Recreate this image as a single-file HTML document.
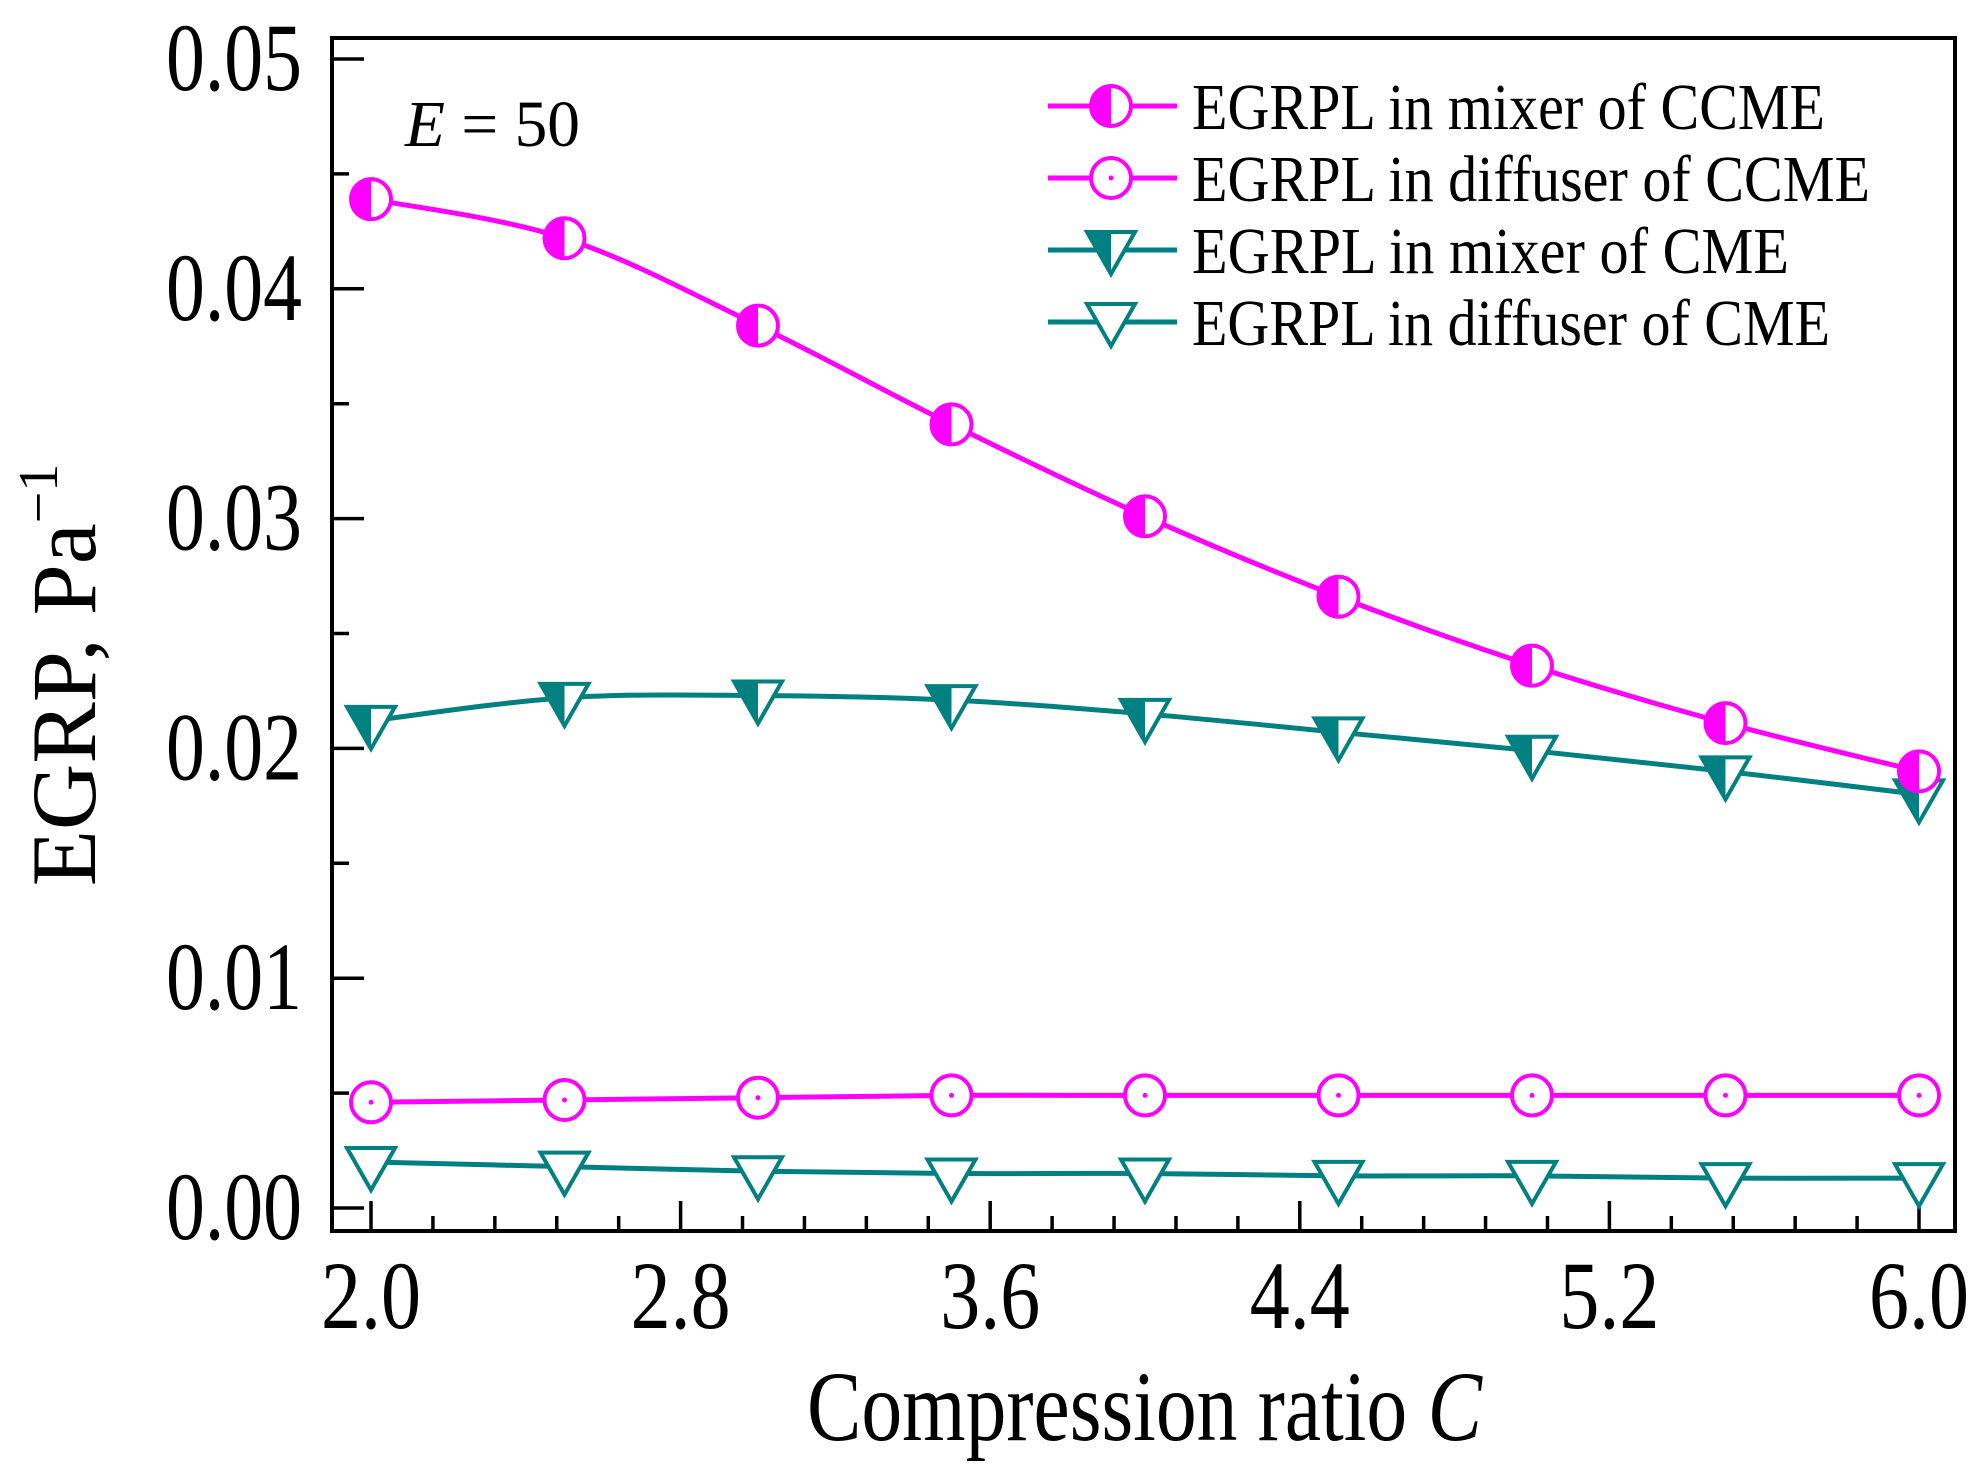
<!DOCTYPE html>
<html><head><meta charset="utf-8"><style>
html,body{margin:0;padding:0;background:#fff;}
svg{display:block;}
text{font-family:"Liberation Serif",serif;fill:#000;}
</style></head><body>
<svg id="s" width="1984" height="1470" xmlns="http://www.w3.org/2000/svg"></svg>
<script>
const s=document.getElementById('s');
const L=332,T=38,R=1955,B=1231;
const X=v=>371+(v-2)*387, Y=v=>1208-v*22980;
let h='';
h+=`<rect x="${L}" y="${T}" width="${R-L}" height="${B-T}" fill="none" stroke="#000" stroke-width="4"/>`;
for(let i=0;i<=10;i++){const v=i*0.005,y=Y(v),len=i%2==0?32:17;
 h+=`<line x1="${L}" x2="${L+len}" y1="${y}" y2="${y}" stroke="#000" stroke-width="3.5"/>`;
 if(i%2==0)h+=`<text x="${L-30}" y="${y+31}" font-size="96" text-anchor="end" textLength="136" lengthAdjust="spacingAndGlyphs">${(v).toFixed(2)}</text>`;}
for(let i=0;i<=25;i++){const v=2+i*0.16,x=X(v);if(x>R)break;const maj=i%5==0,len=maj?30:15;
 h+=`<line x1="${x}" x2="${x}" y1="${B}" y2="${B-len}" stroke="#000" stroke-width="3.5"/>`;
 if(maj)h+=`<text x="${x-50}" y="1328" font-size="96" textLength="100" lengthAdjust="spacingAndGlyphs">${v.toFixed(1)}</text>`;}
const xs=[2,2.5,3,3.5,4,4.5,5,5.5,6];
const d1=[0.0439,0.0422,0.0384,0.0341,0.0301,0.0266,0.0236,0.0211,0.0190];
const d2=[0.0046,0.0047,0.0048,0.0049,0.0049,0.0049,0.0049,0.0049,0.0049];
const d3=[0.0212,0.0222,0.0223,0.0221,0.0215,0.0207,0.0199,0.0190,0.0180];
const d4=[0.0020,0.0018,0.0016,0.0015,0.0015,0.0014,0.0014,0.0013,0.0013];
function path(d){const p=xs.map((x,i)=>[X(x),Y(d[i])]);let s=`M${p[0]}`;
 for(let i=0;i<p.length-1;i++){const p0=p[Math.max(i-1,0)],p1=p[i],p2=p[i+1],p3=p[Math.min(i+2,p.length-1)];
 const c1=[p1[0]+(p2[0]-p0[0])/6,p1[1]+(p2[1]-p0[1])/6],c2=[p2[0]-(p3[0]-p1[0])/6,p2[1]-(p3[1]-p1[1])/6];
 s+=` C${c1} ${c2} ${p2}`;}return s;}
const M='#ff00ff',G='#008080';
function halfC(x,y){return `<circle cx="${x}" cy="${y}" r="20" fill="#fff" stroke="${M}" stroke-width="4"/><path d="M${x},${y-20} A20,20 0 0 0 ${x},${y+20} Z" fill="${M}"/>`;}
function openC(x,y){return `<circle cx="${x}" cy="${y}" r="20" fill="#fff" stroke="${M}" stroke-width="4"/><circle cx="${x}" cy="${y}" r="2.5" fill="${M}"/>`;}
function tri(x,y,fill){let r=`<polygon points="${x-24},${y-14} ${x+24},${y-14} ${x},${y+28}" fill="#fff" stroke="${G}" stroke-width="4"/>`;
 if(fill)r+=`<polygon points="${x-24},${y-14} ${x},${y-14} ${x},${y+28}" fill="${G}"/>`;return r;}
[[d1,M],[d2,M],[d3,G],[d4,G]].forEach(a=>{h+=`<path d="${path(a[0])}" fill="none" stroke="${a[1]}" stroke-width="5"/>`;});
xs.forEach((x,i)=>{h+=openC(X(x),Y(d2[i]));h+=tri(X(x),Y(d4[i]),false);h+=tri(X(x),Y(d3[i]),true);h+=halfC(X(x),Y(d1[i]));});
const leg=[['EGRPL in mixer of CCME',M,'h',633],['EGRPL in diffuser of CCME',M,'o',678],['EGRPL in mixer of CME',G,'t',597],['EGRPL in diffuser of CME',G,'u',638]];
leg.forEach((l,i)=>{const y=106+i*72;
 h+=`<line x1="1048" x2="1177" y1="${y}" y2="${y}" stroke="${l[1]}" stroke-width="5"/>`;
 if(l[2]=='h')h+=halfC(1111,y);else if(l[2]=='o')h+=openC(1111,y);else h+=tri(1111,y-4,l[2]=='t');
 h+=`<text x="1192" y="${y+23}" font-size="66" textLength="${l[3]}" lengthAdjust="spacingAndGlyphs">${l[0]}</text>`;});
h+=`<text x="405" y="146" font-size="66" textLength="175" lengthAdjust="spacingAndGlyphs"><tspan font-style="italic">E</tspan> = 50</text>`;
h+=`<text x="807" y="1440" font-size="100" textLength="675" lengthAdjust="spacingAndGlyphs">Compression ratio <tspan font-style="italic">C</tspan></text>`;
h+=`<text transform="translate(95,675) rotate(-90)" font-size="92" text-anchor="middle">EGRP, Pa<tspan font-size="56" dy="-38">−1</tspan></text>`;
s.innerHTML=h;
</script>
</body></html>
